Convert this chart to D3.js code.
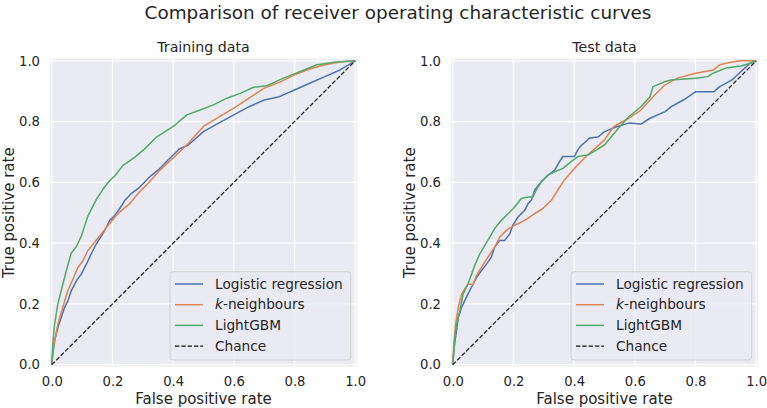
<!DOCTYPE html>
<html>
<head>
<meta charset="utf-8">
<script src="https://cdn.jsdelivr.net/npm/d3@7"></script>
<style>
  body { margin: 0; background: #fff; }
  text { font-family: "DejaVu Sans", sans-serif; fill: #262626; }
</style>
</head>
<body>
<svg id="chart" width="767" height="408"></svg>
<script>
// ROC curves
const ticks = [0, 0.2, 0.4, 0.6, 0.8, 1.0];
const seriesNames = ["Logistic regression", "k-neighbours", "LightGBM", "Chance"];
const colors = ["#4c72b0", "#dd8452", "#55a868"];

// Training data
const trainLogFpr = [0, .003, .011, .02, .031, .042, .053, .064, .081, .097, .114, .13, .147, .164, .18, .191, .208, .224, .241, .263, .285, .307, .329, .351, .38, .40, .42, .45, .5, .55, .6, .65, .7, .75, .8, .85, .9, .95, 1];
const trainLogTpr = [0, .033, .088, .122, .155, .188, .21, .243, .276, .298, .331, .365, .398, .425, .453, .475, .492, .514, .541, .564, .58, .602, .624, .641, .67, .69, .71, .723, .767, .795, .822, .849, .871, .882, .904, .926, .948, .97, 1];

const trainKnnFpr = [0, .003, .009, .02, .036, .053, .07, .086, .103, .119, .141, .164, .186, .208, .23, .257, .285, .318, .351, .40, .45, .5, .55, .6, .65, .7, .75, .8, .85, .9, .95, 1];
const trainKnnTpr = [0, .044, .077, .133, .188, .244, .282, .32, .343, .376, .403, .431, .459, .486, .508, .53, .564, .597, .635, .68, .729, .784, .815, .844, .877, .91, .929, .954, .973, .987, .996, 1];

const trainGbmFpr = [0, .003, .009, .02, .031, .048, .064, .081, .097, .108, .119, .13, .147, .169, .191, .208, .235, .274, .307, .346, .40, .445, .489, .533, .577, .621, .665, .709, .764, .819, .874, .93, 1];
const trainGbmTpr = [0, .067, .133, .2, .244, .31, .367, .389, .422, .456, .489, .511, .544, .578, .606, .622, .656, .683, .711, .75, .784, .822, .838, .855, .877, .893, .913, .918, .943, .965, .987, .995, 1];

// Test data
const testLogFpr = [0, .003, .007, .012, .018, .029, .039, .05, .061, .078, .094, .111, .127, .138, .155, .171, .188, .198, .215, .237, .248, .259, .27, .292, .314, .336, .352, .363, .401, .412, .42, .45, .48, .5, .54, .58, .62, .65, .7, .72, .76, .8, .86, .88, .92, .95, .98, 1];
const testLogTpr = [0, .044, .077, .11, .155, .188, .21, .232, .254, .287, .309, .331, .354, .387, .409, .409, .431, .459, .486, .508, .53, .541, .575, .602, .624, .64, .669, .685, .685, .707, .718, .745, .75, .767, .783, .795, .792, .811, .833, .849, .871, .898, .898, .915, .937, .965, .992, 1];

const testKnnFpr = [0, .003, .009, .018, .029, .039, .05, .067, .078, .094, .116, .138, .155, .177, .204, .237, .27, .297, .325, .346, .368, .401, .434, .45, .5, .53, .58, .62, .66, .7, .74, .8, .86, .88, .92, .95, 1];
const testKnnTpr = [0, .066, .133, .188, .232, .249, .265, .265, .293, .32, .354, .387, .42, .442, .459, .475, .497, .514, .541, .575, .608, .646, .68, .695, .74, .783, .811, .838, .882, .921, .943, .959, .97, .987, .996, 1, 1];

const testGbmFpr = [0, .004, .009, .015, .023, .034, .045, .056, .072, .089, .105, .122, .138, .16, .182, .204, .226, .248, .264, .275, .292, .314, .336, .363, .39, .412, .445, .5, .55, .58, .62, .65, .66, .7, .72, .8, .84, .86, .9, .95, .98, 1];
const testGbmTpr = [0, .055, .11, .144, .177, .232, .254, .282, .326, .365, .392, .42, .448, .475, .497, .519, .547, .552, .552, .575, .602, .624, .635, .646, .668, .685, .69, .723, .783, .816, .849, .882, .915, .932, .937, .943, .948, .96, .976, .983, .992, 1];

const panels = [
  { title: "Training data", left: 50, right: 357,
    curves: [[trainLogFpr, trainLogTpr], [trainKnnFpr, trainKnnTpr], [trainGbmFpr, trainGbmTpr]] },
  { title: "Test data", left: 451, right: 758,
    curves: [[testLogFpr, testLogTpr], [testKnnFpr, testKnnTpr], [testGbmFpr, testGbmTpr]] }
];

const svg = d3.select("#chart");
const plotTop = 59, plotBottom = 366.5;

svg.append("text")
  .attr("x", 398).attr("y", 19)
  .attr("text-anchor", "middle")
  .style("font-size", "18.4px")
  .text("Comparison of receiver operating characteristic curves");

panels.forEach(p => {
  const x = d3.scaleLinear().domain([-0.006, 1.006]).range([p.left, p.right]);
  const y = d3.scaleLinear().domain([-0.006, 1.006]).range([plotBottom, plotTop]);
  const g = svg.append("g");

  g.append("rect")
    .attr("x", p.left).attr("y", plotTop)
    .attr("width", p.right - p.left).attr("height", plotBottom - plotTop)
    .attr("fill", "#eaeaf2");

  // grid
  g.selectAll(".gx").data(ticks).join("line")
    .attr("x1", d => x(d)).attr("x2", d => x(d))
    .attr("y1", plotTop).attr("y2", plotBottom)
    .attr("stroke", "#fff").attr("stroke-width", 1.2);
  g.selectAll(".gy").data(ticks).join("line")
    .attr("y1", d => y(d)).attr("y2", d => y(d))
    .attr("x1", p.left).attr("x2", p.right)
    .attr("stroke", "#fff").attr("stroke-width", 1.2);

  // axes
  const xa = g.append("g").attr("transform", `translate(0,${plotBottom})`)
    .call(d3.axisBottom(x).tickValues(ticks).tickFormat(d3.format(".1f")).tickSize(0).tickPadding(10.6));
  const ya = g.append("g").attr("transform", `translate(${p.left},0)`)
    .call(d3.axisLeft(y).tickValues(ticks).tickFormat(d3.format(".1f")).tickSize(0).tickPadding(10));
  [xa, ya].forEach(a => {
    a.select(".domain").remove();
    a.selectAll("text").style("font-size", "13.2px").style("font-family", "DejaVu Sans").attr("fill", "#262626");
  });

  g.append("text")
    .attr("x", (p.left + p.right) / 2).attr("y", 52)
    .attr("text-anchor", "middle")
    .style("font-size", "14.2px")
    .text(p.title);

  g.append("text")
    .attr("x", (p.left + p.right) / 2).attr("y", 403.5)
    .attr("text-anchor", "middle")
    .style("font-size", "15px")
    .text("False positive rate");

  g.append("text")
    .attr("transform", `translate(${p.left - 36.5},${(plotTop + plotBottom) / 2}) rotate(-90)`)
    .attr("text-anchor", "middle")
    .style("font-size", "15px")
    .text("True positive rate");

  // curves
  const line = d3.line().x(d => x(d[0])).y(d => y(d[1]));
  p.curves.forEach((c, i) => {
    g.append("path")
      .datum(c[0].map((f, k) => [f, c[1][k]]))
      .attr("d", line)
      .attr("fill", "none")
      .attr("stroke", colors[i])
      .attr("stroke-width", 1.5)
      .attr("stroke-linejoin", "round");
  });
  g.append("path")
    .datum([[0, 0], [1, 1]])
    .attr("d", line)
    .attr("fill", "none")
    .attr("stroke", "#1a1a1a")
    .attr("stroke-width", 1.2)
    .attr("stroke-dasharray", "4.4,1.9");

  // legend
  const lw = 180.7, lh = 88.3;
  const lx = p.right - 6.3 - lw, ly = plotBottom - 6.5 - lh;
  const leg = g.append("g").attr("transform", `translate(${lx},${ly})`);
  leg.append("rect")
    .attr("width", lw).attr("height", lh).attr("rx", 3)
    .attr("fill", "#eaeaf2").attr("fill-opacity", 0.8)
    .attr("stroke", "#cccccc").attr("stroke-width", 0.8);
  seriesNames.forEach((name, i) => {
    const cy = 12.3 + i * 20.7;
    leg.append("line")
      .attr("x1", 5).attr("x2", 33).attr("y1", cy).attr("y2", cy)
      .attr("stroke", i < 3 ? colors[i] : "#1a1a1a")
      .attr("stroke-width", i < 3 ? 1.5 : 1.2)
      .attr("stroke-dasharray", i < 3 ? null : "4.4,1.9");
    const t = leg.append("text")
      .attr("x", 45).attr("y", cy).attr("dy", "0.35em")
      .style("font-size", "13.7px");
    if (name.startsWith("k-")) {
      t.append("tspan").style("font-style", "italic").text("k");
      t.append("tspan").text(name.slice(1));
    } else {
      t.text(name);
    }
  });
});
</script>
</body>
</html>
